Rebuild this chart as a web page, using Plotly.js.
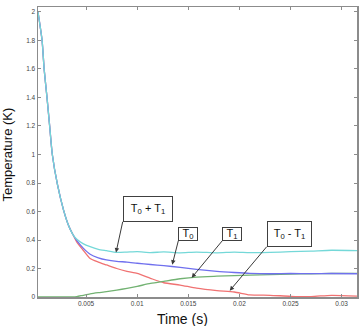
<!DOCTYPE html>
<html><head><meta charset="utf-8">
<script src="https://cdn.plot.ly/plotly-3.0.1.min.js"></script>
<style>html,body{margin:0;padding:0;background:#fff}#chart{width:364px;height:326px}</style>
</head><body><div id="chart"></div>
<script>
// Time (s)
const time = [0.0003,0.0007,0.0009,0.00118,0.00144,0.0017,0.0022,0.0028,0.0033,0.0037,0.0041,0.0047,0.0054,0.0062,0.0070,0.0080,0.0090,0.0100,0.0113,0.0126,0.0142,0.0158,0.0178,0.0195,0.0210,0.0230,0.0250,0.0270,0.0290,0.0315];
// T0 + T1 (cyan)
const sumT = [2.0,1.8,1.6,1.4,1.2,1.0,0.79,0.61,0.5,0.44,0.405,0.375,0.353,0.335,0.325,0.313,0.315,0.318,0.312,0.316,0.31,0.315,0.31,0.315,0.312,0.313,0.318,0.322,0.328,0.325];
// T0 (blue)
const t0 = [2.0,1.8,1.6,1.4,1.2,1.0,0.79,0.61,0.5,0.44,0.395,0.345,0.30,0.275,0.26,0.25,0.245,0.237,0.228,0.22,0.208,0.194,0.18,0.172,0.166,0.163,0.165,0.164,0.165,0.163];
// T0 - T1 (red)
const diffT = [2.0,1.8,1.6,1.4,1.2,1.0,0.79,0.61,0.5,0.44,0.385,0.33,0.27,0.245,0.225,0.2,0.18,0.165,0.131,0.10,0.084,0.062,0.045,0.035,0.015,0.012,0.005,0.003,0.012,0.006];
// T1 (green)
const t1 = [0,0,0,0,0,0,0,0,0,0,0.003,0.012,0.022,0.03,0.037,0.048,0.061,0.075,0.095,0.11,0.128,0.14,0.146,0.15,0.153,0.157,0.161,0.163,0.165,0.166];

const xTickVals = [0.005,0.01,0.015,0.02,0.025,0.03];
const xTickText = ['0.005','0.01','0.015','0.02','0.025','0.03'];
const yTickVals = [0,0.2,0.4,0.6,0.8,1,1.2,1.4,1.6,1.8,2];
const yTickText = ['0','0.2','0.4','0.6','0.8','1','1.2','1.4','1.6','1.8','2'];

const labels = ['T<sub>0</sub> + T<sub>1</sub>','T<sub>0</sub>','T<sub>1</sub>','T<sub>0</sub> - T<sub>1</sub>'];
const labelX = [0.00793,0.01343,0.01533,0.01905];
const labelY = [0.312,0.227,0.135,0.044];

const lw = 1.3;
const ln = (c)=>({color:c, width:lw, shape:'spline', smoothing:0.6});
const traces = [
  {x: time, y: diffT, mode:'lines', line:ln('#f07272')},
  {x: time, y: t1, mode:'lines', line:ln('#72b272')},
  {x: time, y: t0, mode:'lines', line:ln('#7070ee')},
  {x: time, y: sumT, mode:'lines', line:ln('#74d8d8')}
];

const boxW = [48,18,18,43];
const boxH = [24,12,12,24];
const axPx = [6.7,6.1,30.6,37];
const ayPx = [-30.8,-24,-37,-44];

const annotations = labels.map((t,i)=>({
  x: labelX[i], y: labelY[i], xref:'x', yref:'y', text: t,
  showarrow: true, ax: axPx[i], ay: ayPx[i], axref:'pixel', ayref:'pixel',
  xanchor:'left', yanchor:'bottom',
  arrowhead: 2, arrowsize: 0.9, arrowwidth: 1, arrowcolor:'#3a3a3a',
  bgcolor:'#ffffff', bordercolor:'#404040', borderwidth:1, borderpad:0,
  width: boxW[i], height: boxH[i],
  font:{family:'Liberation Sans, Arial, sans-serif', size:11, color:'#111'}
}));
annotations.push({xref:'paper', yref:'paper', x:(182-38)/319, y:-0.075, yanchor:'middle', xanchor:'center',
  text:'Time (s)', showarrow:false, font:{family:'Liberation Sans, Arial, sans-serif', size:14, color:'#111'}});
annotations.push({xref:'paper', yref:'paper', x:-0.095, y:0.49, xanchor:'center', yanchor:'middle', textangle:-90,
  text:'Temperature (K)', showarrow:false, font:{family:'Liberation Sans, Arial, sans-serif', size:13, color:'#111'}});

const axisCommon = {showgrid:false, zeroline:false, showline:true, linecolor:'#8c8c8c', linewidth:1.5,
  mirror:'ticks', ticks:'inside', ticklen:3, tickcolor:'#8c8c8c', tickwidth:1,
  tickfont:{family:'Liberation Sans, Arial, sans-serif', size:6.5, color:'#444'}};

const layout = {
  width:364, height:326,
  margin:{l:38, r:7, t:7, b:29},
  paper_bgcolor:'#fff', plot_bgcolor:'#fff',
  showlegend:false,
  xaxis: Object.assign({}, axisCommon, {range:[0.0003,0.0315], tickmode:'array', tickvals:xTickVals, ticktext:xTickText}),
  yaxis: Object.assign({}, axisCommon, {range:[0,2.035], tickmode:'array', tickvals:yTickVals, ticktext:yTickText}),
  annotations: annotations
};
Plotly.newPlot('chart', traces, layout, {displayModeBar:false, staticPlot:true});
</script></body></html>
